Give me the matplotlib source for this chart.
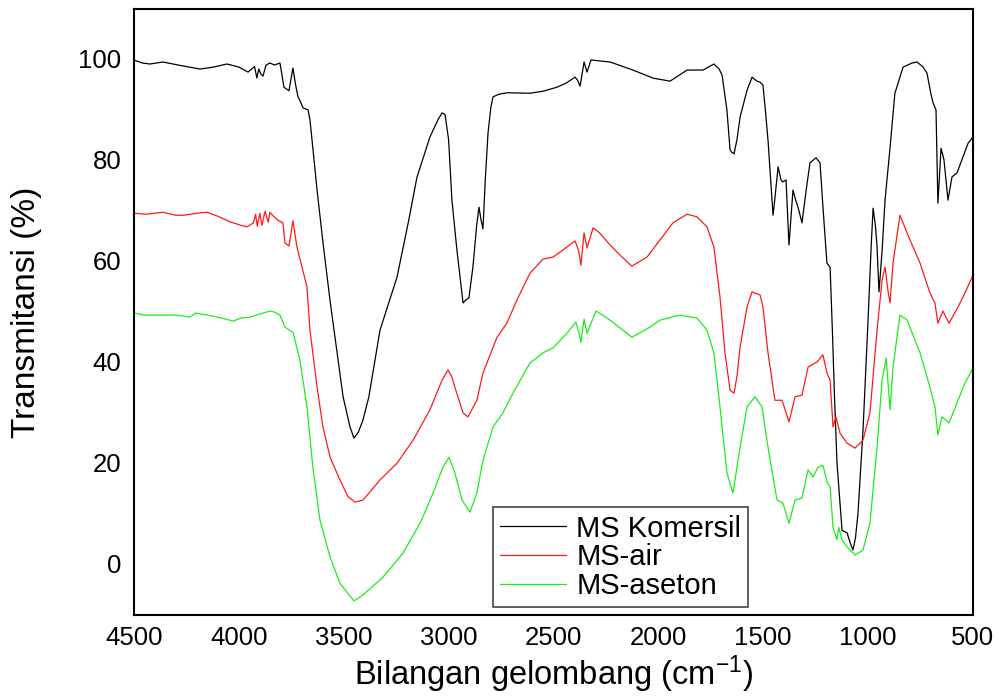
import numpy as np
import matplotlib
matplotlib.use('Agg')
import matplotlib.pyplot as plt

plt.rcParams['font.family'] = ['Liberation Sans', 'DejaVu Sans']
plt.rcParams['mathtext.fontset'] = 'custom'
plt.rcParams['mathtext.rm'] = 'Liberation Sans'
plt.rcParams['mathtext.it'] = 'Liberation Sans'

# FTIR spectra (wavenumber cm-1, transmittance %)
wn_komersil = [4500, 4460, 4424, 4362, 4290, 4185, 4120, 4057, 4000, 3956, 3925, 3914, 3905, 3895, 3885,
               3870, 3852, 3830, 3804, 3795, 3785, 3761, 3742, 3730, 3718, 3706, 3694, 3670, 3661, 3647,
               3627, 3600, 3565, 3503, 3470, 3451, 3430, 3408, 3380, 3327, 3246, 3190, 3151, 3089, 3050,
               3031, 3017, 3000, 2984, 2960, 2931, 2918, 2903, 2884, 2866, 2855, 2845, 2836, 2825, 2812,
               2798, 2788, 2760, 2722, 2612, 2550, 2483, 2440, 2397, 2385, 2373, 2354, 2340, 2321, 2230,
               2121, 2025, 1944, 1863, 1787, 1735, 1710, 1696, 1673, 1658, 1650, 1639, 1625, 1610, 1577,
               1553, 1530, 1515, 1501, 1490, 1477, 1453, 1445, 1429, 1415, 1406, 1391, 1377, 1358, 1345,
               1334, 1315, 1295, 1277, 1248, 1229, 1215, 1196, 1181, 1170, 1160, 1148, 1124, 1100, 1085,
               1072, 1060, 1048, 1024, 1000, 985, 976, 965, 957, 948, 933, 919, 895, 872, 833,
               790, 767, 740, 719, 700, 690, 676, 667, 652, 638, 619, 600, 576, 547, 523,
               500]
t_komersil = [99.8, 99.2, 99.0, 99.4, 98.8, 98.0, 98.4, 99.0, 98.4, 97.4, 98.5, 96.2, 98.0, 97.0, 96.6,
              98.8, 99.2, 98.8, 99.2, 97.0, 94.4, 93.7, 98.2, 95.0, 92.5, 91.5, 90.3, 89.9, 88.0, 82.3,
              74.0, 64.0, 52.0, 33.0, 27.0, 24.8, 26.0, 28.4, 33.0, 46.2, 56.7, 68.0, 76.5, 84.5, 88.0,
              89.3, 89.0, 84.0, 72.0, 62.0, 51.6, 52.2, 52.6, 58.7, 67.0, 70.6, 68.0, 66.3, 76.0, 85.3,
              90.5, 92.5, 93.0, 93.3, 93.2, 93.6, 94.4, 95.2, 96.4, 95.8, 94.6, 99.4, 97.4, 99.8, 99.4,
              97.8, 96.2, 95.6, 97.8, 97.8, 99.0, 98.0, 96.8, 89.9, 82.0, 81.5, 81.2, 84.0, 88.5, 93.8,
              96.4, 95.6, 95.4, 94.8, 90.0, 83.9, 69.0, 72.0, 78.6, 76.0, 75.6, 76.0, 63.1, 74.0, 72.0,
              70.6, 67.5, 74.0, 79.4, 80.4, 79.4, 70.6, 59.5, 58.7, 46.0, 33.0, 19.8, 6.5, 6.0, 4.0,
              2.6, 5.0, 9.9, 26.4, 48.2, 63.0, 70.4, 67.0, 62.7, 53.8, 62.0, 72.0, 82.5, 93.2, 98.4,
              99.2, 99.4, 98.5, 97.2, 93.0, 91.3, 89.9, 71.4, 82.3, 80.0, 72.0, 76.6, 77.4, 80.6, 83.3,
              84.5]

wn_air = [4500, 4440, 4362, 4300, 4266, 4200, 4152, 4100, 4042, 3990, 3961, 3930, 3920, 3912, 3900,
          3890, 3875, 3860, 3852, 3840, 3813, 3790, 3780, 3761, 3742, 3723, 3699, 3675, 3661, 3651,
          3627, 3599, 3565, 3518, 3480, 3446, 3408, 3327, 3246, 3169, 3089, 3031, 3003, 2985, 2970,
          2931, 2908, 2865, 2836, 2769, 2722, 2674, 2612, 2550, 2502, 2455, 2397, 2380, 2369, 2354,
          2340, 2311, 2280, 2230, 2180, 2126, 2090, 2054, 1992, 1930, 1863, 1816, 1768, 1735, 1706,
          1682, 1658, 1639, 1625, 1610, 1577, 1553, 1515, 1501, 1477, 1444, 1410, 1377, 1348, 1315,
          1286, 1243, 1215, 1196, 1181, 1167, 1153, 1134, 1100, 1062, 1024, 991, 957, 933, 919,
          905, 895, 881, 848, 800, 752, 705, 681, 667, 643, 614, 571, 538, 500]
t_air = [69.4, 69.2, 69.6, 69.0, 69.0, 69.4, 69.6, 68.8, 67.7, 67.0, 66.7, 67.5, 69.2, 66.8, 69.4,
         67.0, 69.8, 67.6, 69.6, 69.0, 68.0, 67.5, 63.5, 62.9, 67.9, 62.7, 58.7, 54.8, 46.2, 42.9,
         34.9, 27.0, 21.0, 16.5, 13.2, 12.1, 12.5, 16.5, 19.8, 24.4, 30.4, 36.3, 38.3, 37.0, 34.9,
         29.8, 29.0, 32.3, 37.7, 44.8, 47.6, 52.2, 57.5, 60.3, 60.7, 62.1, 63.9, 62.0, 59.1, 65.5,
         62.5, 66.5, 65.5, 63.1, 61.0, 58.9, 59.8, 60.7, 64.1, 67.5, 69.2, 68.7, 66.7, 62.7, 52.8,
         41.7, 34.3, 33.7, 37.0, 42.9, 50.8, 53.8, 53.2, 50.8, 41.7, 32.3, 32.3, 28.0, 33.0, 33.3,
         38.9, 39.9, 41.3, 37.7, 36.3, 27.0, 29.0, 25.8, 23.8, 22.8, 24.4, 29.8, 46.2, 56.2, 58.7,
         54.0, 51.6, 59.5, 69.0, 64.1, 59.5, 53.6, 51.6, 47.6, 50.0, 47.6, 50.8, 53.6, 57.1]

wn_aseton = [4500, 4450, 4390, 4300, 4233, 4207, 4150, 4080, 4028, 3990, 3947, 3900, 3852, 3830, 3804,
             3780, 3742, 3709, 3675, 3647, 3613, 3565, 3518, 3451, 3408, 3313, 3217, 3136, 3074, 3027,
             2998, 2970, 2936, 2898, 2865, 2836, 2788, 2741, 2693, 2612, 2550, 2502, 2436, 2393, 2380,
             2369, 2354, 2340, 2297, 2230, 2126, 2040, 1992, 1897, 1816, 1768, 1735, 1706, 1673, 1644,
             1610, 1577, 1539, 1506, 1477, 1434, 1406, 1377, 1348, 1315, 1286, 1262, 1239, 1215, 1196,
             1181, 1167, 1148, 1140, 1124, 1100, 1062, 1024, 991, 957, 933, 914, 895, 881, 848,
             814, 752, 705, 681, 667, 648, 614, 571, 538, 500]
t_aseton = [49.6, 49.2, 49.2, 49.2, 48.8, 49.6, 49.2, 48.6, 48.0, 48.6, 48.8, 49.4, 50.0, 49.8, 49.2,
            46.8, 45.8, 40.3, 31.0, 19.0, 8.5, 1.2, -4.0, -7.5, -6.3, -2.8, 2.0, 7.9, 13.9, 19.0,
            21.0, 17.9, 12.5, 10.1, 13.9, 20.4, 27.0, 29.8, 33.7, 39.7, 41.7, 42.7, 45.6, 47.8, 46.0,
            43.8, 48.4, 45.6, 50.0, 48.2, 44.8, 46.8, 48.2, 49.2, 48.6, 46.2, 41.7, 31.0, 17.9, 13.9,
            23.0, 31.0, 33.0, 31.0, 23.0, 12.5, 11.9, 7.9, 12.5, 12.9, 18.5, 17.1, 19.0, 19.4, 16.1,
            15.1, 7.1, 4.6, 7.1, 4.6, 3.2, 1.6, 2.6, 7.9, 23.0, 36.3, 40.7, 30.4, 38.9, 49.2,
            48.2, 41.7, 34.9, 31.0, 25.4, 29.0, 27.8, 32.3, 35.7, 38.7]

labels = ['MS Komersil', 'MS-air', 'MS-aseton']
colors = ['#000000', '#ff1a1a', '#1aee1a']

fig = plt.figure(figsize=(9.99, 6.97), dpi=100)
ax = fig.add_axes([0.1341, 0.1176, 0.8398, 0.8694])

ax.plot(wn_komersil, t_komersil, color=colors[0], lw=0.9, label=labels[0])
ax.plot(wn_air, t_air, color=colors[1], lw=0.9, label=labels[1])
ax.plot(wn_aseton, t_aseton, color=colors[2], lw=0.9, label=labels[2])

ax.set_xlim(4500, 500)
ax.set_ylim(-10.3, 109.9)
ax.set_xticks(np.arange(4500, 499, -500))
ax.set_yticks(np.arange(0, 101, 20))
ax.tick_params(axis='both', length=0, labelsize=18.5)
ax.tick_params(axis='x', pad=8)
ax.tick_params(axis='y', pad=9)
for s in ax.spines.values():
    s.set_linewidth(1.5)

ax.set_xlabel(r'Bilangan gelombang (cm$^{-1}$)', fontsize=23.5)
ax.set_ylabel('Transmitansi (%)', fontsize=24)
ax.xaxis.set_label_coords(0.5, -0.064)
ax.yaxis.set_label_coords(-0.11, 0.5)

leg = ax.legend(loc='lower left', bbox_to_anchor=(0.428, 0.013), borderaxespad=0,
                fontsize=21, fancybox=False, framealpha=1, edgecolor='#444444',
                handlelength=2.25, handletextpad=0.35, labelspacing=0.02, borderpad=0.25)
leg.get_frame().set_linewidth(1.2)

fig.savefig('out.png', dpi=100)
